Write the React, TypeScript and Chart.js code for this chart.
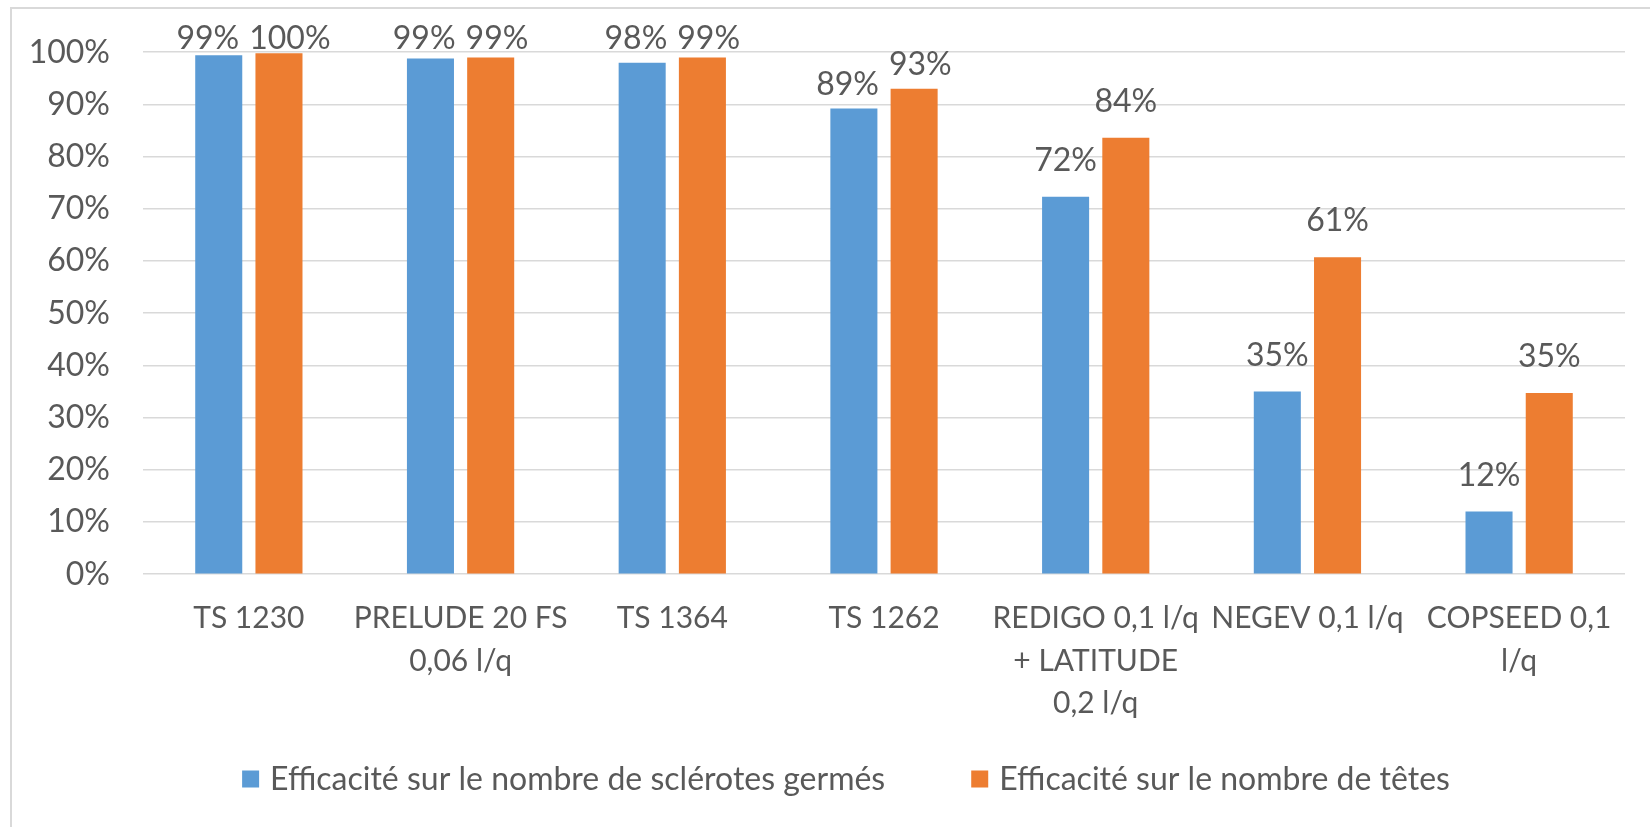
import React, { useEffect, useRef } from "react";
import { Chart, registerables } from "chart.js";

Chart.register(...registerables);

// ---- Data ----
const categories: string[][] = [
  ["TS 1230"],
  ["PRELUDE 20 FS", "0,06 l/q"],
  ["TS 1364"],
  ["TS 1262"],
  ["REDIGO 0,1 l/q", "+ LATITUDE", "0,2 l/q"],
  ["NEGEV 0,1 l/q"],
  ["COPSEED 0,1", "l/q"],
];
const seriesNames: string[] = [
  "Efficacité sur le nombre de sclérotes germés",
  "Efficacité sur le nombre de têtes",
];
const sclerotesGermes: number[] = [99.4, 98.8, 98.0, 89.2, 72.3, 35.0, 12.0];
const nombreTetes: number[] = [99.8, 99.0, 99.0, 93.0, 83.6, 60.7, 34.7];
const yTickValues: number[] = [0, 10, 20, 30, 40, 50, 60, 70, 80, 90, 100];

// ---- Style ----
const BLUE = "#5B9BD5";
const ORANGE = "#ED7D31";
const TEXT = "#595959";
const GRID = "#D9D9D9";
const FONT_FAMILY = "Lato, 'Open Sans', sans-serif";
const TICK_SIZE = 32;
const CAT_SIZE = 30;
const LABEL_SIZE = 32;
const LEGEND_SIZE = 32;
const LEGEND_CENTER_X = 846;
const LEGEND_Y = 779;

const dataLabelPlugin = {
  id: "dataLabels",
  afterDatasetsDraw(chart: any) {
    const ctx = chart.ctx;
    ctx.save();
    ctx.font = `${LABEL_SIZE}px ${FONT_FAMILY}`;
    ctx.fillStyle = TEXT;
    ctx.textBaseline = "alphabetic";
    ctx.textAlign = "center";
    const top = chart.chartArea.top;
    const n = chart.data.labels.length;
    for (let i = 0; i < n; i++) {
      const items: any[] = [];
      chart.data.datasets.forEach((ds: any, di: number) => {
        const el = chart.getDatasetMeta(di).data[i];
        const v = ds.data[i];
        const text = `${Math.round(v)}%`;
        const w = ctx.measureText(text).width;
        const gap = v >= 85 ? 14 : 26;
        let base = el.y - gap;
        base = Math.max(base, top - 3);
        items.push({ x: el.x, w, text, base });
      });
      if (items.length === 2) {
        const a = items[0], b = items[1];
        const overlap = a.x + a.w / 2 + 10 - (b.x - b.w / 2);
        const vertOverlap = Math.abs(a.base - b.base) < LABEL_SIZE * 0.8;
        if (overlap > 0 && vertOverlap) {
          a.x -= overlap / 2;
          b.x += overlap / 2;
        }
      }
      items.forEach((it) => ctx.fillText(it.text, it.x, it.base));
    }
    ctx.restore();
  },
};

const legendPlugin = {
  id: "customLegend",
  afterDraw(chart: any) {
    const ctx = chart.ctx;
    ctx.save();
    ctx.font = `${LEGEND_SIZE}px ${FONT_FAMILY}`;
    ctx.textBaseline = "middle";
    ctx.textAlign = "left";
    const box = 17;
    const gap = 11;
    const spacing = 86;
    const items = chart.data.datasets.map((ds: any) => ({
      text: ds.label,
      color: ds.backgroundColor,
      w: ctx.measureText(ds.label).width,
    }));
    const total =
      items.reduce((s: number, it: any) => s + box + gap + it.w, 0) +
      spacing * (items.length - 1);
    let x = LEGEND_CENTER_X - total / 2;
    items.forEach((it: any) => {
      ctx.fillStyle = it.color;
      ctx.fillRect(x, LEGEND_Y - box / 2, box, box);
      x += box + gap;
      ctx.fillStyle = TEXT;
      ctx.fillText(it.text, x, LEGEND_Y + 1);
      x += it.w + spacing;
    });
    ctx.restore();
  },
};

export default function App() {
  const canvasRef = useRef<HTMLCanvasElement | null>(null);

  useEffect(() => {
    if (!canvasRef.current) return;
    const chart = new Chart(canvasRef.current, {
      type: "bar",
      data: {
        labels: categories,
        datasets: [
          {
            label: seriesNames[0],
            data: sclerotesGermes,
            backgroundColor: BLUE,
            borderWidth: 0,
            categoryPercentage: 0.569,
            barPercentage: 0.781,
          },
          {
            label: seriesNames[1],
            data: nombreTetes,
            backgroundColor: ORANGE,
            borderWidth: 0,
            categoryPercentage: 0.569,
            barPercentage: 0.781,
          },
        ],
      },
      options: {
        responsive: false,
        animation: false,
        devicePixelRatio: 1,
        layout: { padding: { top: 51, right: 25, bottom: 79, left: 0 } },
        plugins: {
          legend: { display: false },
          tooltip: { enabled: false },
          title: { display: false },
        },
        scales: {
          x: {
            grid: { display: false, drawTicks: false },
            border: { display: false },
            ticks: {
              color: TEXT,
              font: { family: FONT_FAMILY, size: CAT_SIZE, lineHeight: 1.42 },
              padding: 23,
              autoSkip: false,
              maxRotation: 0,
              minRotation: 0,
            },
          },
          y: {
            min: 0,
            max: 100,
            afterFit: (s: any) => {
              s.width = 143;
            },
            afterBuildTicks: (s: any) => {
              s.ticks = yTickValues.map((v) => ({ value: v }));
            },
            grid: { color: GRID, lineWidth: 1.5, drawTicks: false },
            border: { display: false },
            ticks: {
              color: TEXT,
              font: { family: FONT_FAMILY, size: TICK_SIZE },
              padding: 33,
              callback: (v: any) => `${v}%`,
            },
          },
        },
      },
      plugins: [dataLabelPlugin, legendPlugin],
    });
    return () => chart.destroy();
  }, []);

  return (
    <div
      style={{
        position: "fixed",
        left: 0,
        top: 0,
        width: 1650,
        height: 827,
        overflow: "hidden",
        background: "#fff",
      }}
    >
      <div
        style={{
          position: "absolute",
          left: 10,
          top: 7,
          width: 1700,
          height: 900,
          border: "2px solid #D9D9D9",
          boxSizing: "border-box",
        }}
      />
      <canvas
        ref={canvasRef}
        width={1650}
        height={827}
        style={{ position: "absolute", left: 0, top: 0, width: 1650, height: 827 }}
      />
    </div>
  );
}
